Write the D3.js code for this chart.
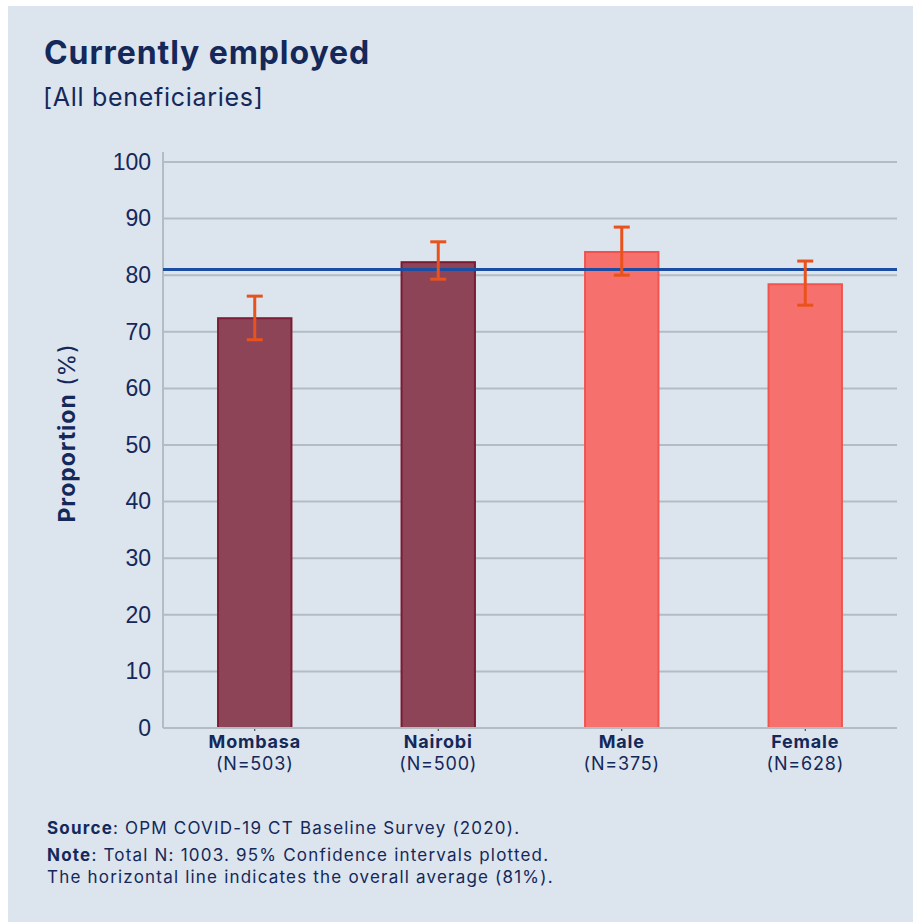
<!DOCTYPE html>
<html>
<head>
<meta charset="utf-8">
<script src="https://cdn.jsdelivr.net/npm/d3@7"></script>
<style>
  html, body { margin: 0; padding: 0; background: #ffffff; }
  svg { display: block; }
</style>
</head>
<body>
<svg id="chart" width="915" height="922"></svg>
<script>
// Employment share by group, with 95% confidence intervals
const categories = ["Mombasa", "Nairobi", "Male", "Female"];
const sampleSizes = ["(N=503)", "(N=500)", "(N=375)", "(N=628)"];
const proportions = [72.4, 82.3, 84.1, 78.4];
const ciLower = [68.6, 79.3, 80.0, 74.7];
const ciUpper = [76.3, 85.9, 88.5, 82.5];
const groupType = ["location", "location", "gender", "gender"];
const overallAverage = 81;
const yTicks = [0, 10, 20, 30, 40, 50, 60, 70, 80, 90, 100];

const navy = "#14285a";
const fillColor = { location: "#8d4457", gender: "#f6716d" };
const strokeColor = { location: "#7c1c34", gender: "#f0544f" };

const svg = d3.select("#chart");

// panel background
svg.append("rect")
  .attr("x", 8).attr("y", 6)
  .attr("width", 905).attr("height", 916)
  .attr("fill", "#dce4ed");

const titleFont = "Inter, 'Open Sans', sans-serif";
const tickFont = "'Liberation Sans', Arial, sans-serif";

svg.append("text")
  .attr("x", 44).attr("y", 64)
  .attr("font-family", titleFont)
  .attr("font-weight", 700)
  .attr("font-size", 32)
  .attr("letter-spacing", 0.9)
  .attr("fill", navy)
  .text("Currently employed");

svg.append("text")
  .attr("x", 43).attr("y", 106)
  .attr("font-family", titleFont)
  .attr("font-weight", 400)
  .attr("font-size", 25)
  .attr("letter-spacing", 0.7)
  .attr("fill", navy)
  .text("[All beneficiaries]");

const plotLeft = 163, plotRight = 897, plotTop = 162, plotBottom = 728;

const x = d3.scaleBand()
  .domain(categories)
  .range([plotLeft, plotRight])
  .paddingInner(0.6)
  .paddingOuter(0.3);

const y = d3.scaleLinear()
  .domain([0, 100])
  .range([plotBottom, plotTop]);

// gridlines
svg.append("g")
  .selectAll("line")
  .data(yTicks)
  .join("line")
  .attr("x1", plotLeft).attr("x2", plotRight)
  .attr("y1", d => y(d)).attr("y2", d => y(d))
  .attr("stroke", "#b3bbc3")
  .attr("stroke-width", 2);

// y axis line
svg.append("line")
  .attr("x1", plotLeft).attr("x2", plotLeft)
  .attr("y1", 152).attr("y2", plotBottom)
  .attr("stroke", "#b3bbc3")
  .attr("stroke-width", 2);

// y tick labels
const yAxis = d3.axisLeft(y).tickValues(yTicks).tickSize(0).tickPadding(12);
const yg = svg.append("g")
  .attr("transform", `translate(${plotLeft},0)`)
  .call(yAxis);
yg.select(".domain").remove();
yg.selectAll("text")
  .attr("font-family", tickFont)
  .attr("font-size", 23)
  .attr("fill", navy);

// y axis title
svg.append("text")
  .attr("transform", "translate(75,433) rotate(-90)")
  .attr("text-anchor", "middle")
  .attr("font-family", titleFont)
  .attr("font-size", 23)
  .attr("letter-spacing", 1)
  .attr("fill", navy)
  .call(t => {
    t.append("tspan").attr("font-weight", 700).text("Proportion");
    t.append("tspan").attr("font-weight", 400).text(" (%)");
  });

const rows = categories.map((c, i) => ({
  cat: c, n: sampleSizes[i], v: proportions[i],
  lo: ciLower[i], hi: ciUpper[i], g: groupType[i]
}));

// bars
svg.append("g")
  .selectAll("rect")
  .data(rows)
  .join("rect")
  .attr("x", d => x(d.cat))
  .attr("y", d => y(d.v))
  .attr("width", x.bandwidth())
  .attr("height", d => y(0) - y(d.v))
  .attr("fill", d => fillColor[d.g])
  .attr("stroke", d => strokeColor[d.g])
  .attr("stroke-width", 2);

// small category ticks below baseline
svg.append("g")
  .selectAll("line")
  .data(rows)
  .join("line")
  .attr("x1", d => x(d.cat) + x.bandwidth() / 2)
  .attr("x2", d => x(d.cat) + x.bandwidth() / 2)
  .attr("y1", plotBottom).attr("y2", plotBottom + 3)
  .attr("stroke", "#333")
  .attr("stroke-width", 1);

// average line
svg.append("line")
  .attr("x1", plotLeft).attr("x2", plotRight)
  .attr("y1", y(overallAverage)).attr("y2", y(overallAverage))
  .attr("stroke", "#1b4ea3")
  .attr("stroke-width", 3);

// error bars
const eb = svg.append("g")
  .attr("stroke", "#e8521c")
  .attr("stroke-width", 3);
rows.forEach(d => {
  const cx = x(d.cat) + x.bandwidth() / 2;
  eb.append("line").attr("x1", cx).attr("x2", cx).attr("y1", y(d.hi)).attr("y2", y(d.lo));
  eb.append("line").attr("x1", cx - 8).attr("x2", cx + 8).attr("y1", y(d.hi)).attr("y2", y(d.hi));
  eb.append("line").attr("x1", cx - 8).attr("x2", cx + 8).attr("y1", y(d.lo)).attr("y2", y(d.lo));
});

// baseline
svg.append("line")
  .attr("x1", plotLeft).attr("x2", plotRight)
  .attr("y1", plotBottom).attr("y2", plotBottom)
  .attr("stroke", "#b3bbc3")
  .attr("stroke-width", 2);

// category labels
const xl = svg.append("g")
  .selectAll("g")
  .data(rows)
  .join("g")
  .attr("transform", d => `translate(${x(d.cat) + x.bandwidth() / 2},0)`);
xl.append("text")
  .attr("y", 748)
  .attr("text-anchor", "middle")
  .attr("font-family", titleFont)
  .attr("font-weight", 700)
  .attr("font-size", 18)
  .attr("letter-spacing", 0.8)
  .attr("fill", navy)
  .text(d => d.cat);
xl.append("text")
  .attr("y", 770)
  .attr("text-anchor", "middle")
  .attr("font-family", titleFont)
  .attr("font-weight", 400)
  .attr("font-size", 18)
  .attr("letter-spacing", 0.8)
  .attr("fill", navy)
  .text(d => d.n);

// footnotes
const notes = [
  { y: 834, bold: "Source", rest: ": OPM COVID-19 CT Baseline Survey (2020)." },
  { y: 861, bold: "Note", rest: ": Total N: 1003. 95% Confidence intervals plotted." },
  { y: 883, bold: "", rest: "The horizontal line indicates the overall average (81%)." }
];
notes.forEach(n => {
  const t = svg.append("text")
    .attr("x", 47).attr("y", n.y)
    .attr("font-family", titleFont)
    .attr("font-size", 17)
    .attr("letter-spacing", 1.2)
    .attr("fill", navy);
  if (n.bold) t.append("tspan").attr("font-weight", 700).text(n.bold);
  t.append("tspan").attr("font-weight", 400).text(n.rest);
});
</script>
</body>
</html>
